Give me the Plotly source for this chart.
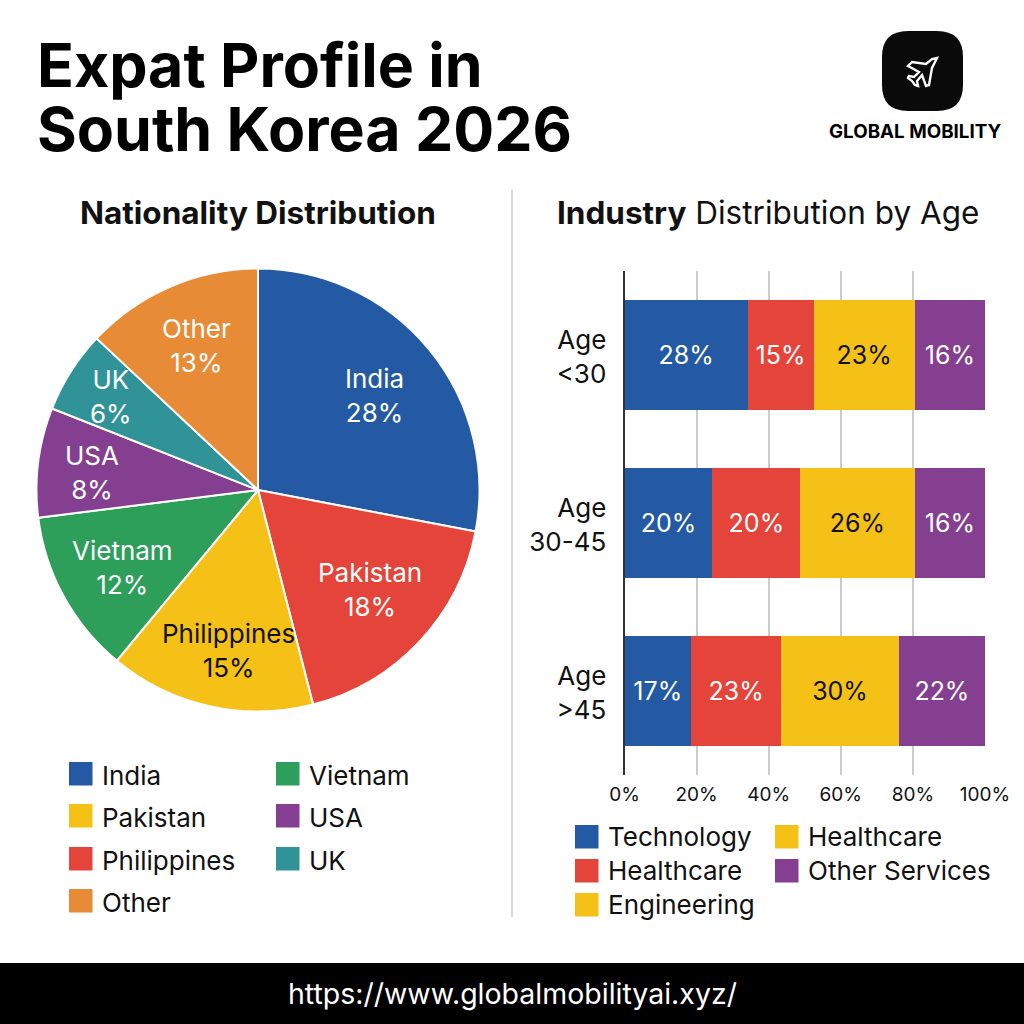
import plotly.graph_objects as go

SIZE = 1024
FONT = "Inter"
INK = "#111111"

# Brand palette
BLUE, RED, YELLOW, PURPLE = "#2459A3", "#E5443A", "#F5C116", "#843F90"
GREEN, TEAL, ORANGE = "#2E9E5B", "#2F9398", "#E88B37"

# Nationality shares
countries = ["India", "Pakistan", "Philippines", "Vietnam", "USA", "UK", "Other"]
country_share = [28, 18, 15, 12, 8, 6, 13]
country_colors = [BLUE, RED, YELLOW, GREEN, PURPLE, TEAL, ORANGE]
country_text = ["white", "white", INK, "white", "white", "white", "white"]
# Centre of each slice caption, in pixels
caption_centres = [(374, 395), (370, 589), (228, 650), (122, 567), (92, 472), (111, 396), (196, 345)]

# Industry shares by age group
age_groups = ["Age<br>&lt;30", "Age<br>30-45", "Age<br>&gt;45"]
industries = ["Technology", "Healthcare", "Engineering", "Other Services"]
technology = [28, 20, 17]
healthcare = [15, 20, 23]
engineering = [23, 26, 30]
other_services = [16, 16, 22]
industry_colors = [BLUE, RED, YELLOW, PURPLE]
industry_text = ["white", "white", INK, "white"]
axis_ticks = [0, 20, 40, 60, 80, 100]

# Legend entries: label, swatch colour, swatch left, swatch top
pie_legend = [
    ("India", BLUE, 69, 762), ("Pakistan", YELLOW, 69, 804),
    ("Philippines", RED, 69, 847), ("Other", ORANGE, 69, 889),
    ("Vietnam", GREEN, 276, 762), ("USA", PURPLE, 276, 804), ("UK", TEAL, 276, 847),
]
bar_legend = [
    ("Technology", BLUE, 575, 825), ("Healthcare", RED, 575, 859),
    ("Engineering", YELLOW, 575, 893), ("Healthcare", YELLOW, 775, 825),
    ("Other Services", PURPLE, 775, 859),
]

# Plane glyph outline, in pixels
plane = [(937, 58), (932, 68), (929, 85), (926, 86), (922, 75), (917, 81), (918, 86),
         (915, 85), (912, 81), (908, 78), (909, 76), (914, 77), (919, 72), (908, 66),
         (912, 62), (926, 64), (932, 59)]


def px(x):
    return x / SIZE


def py(y):
    return 1 - y / SIZE


def rect(x0, y0, x1, y1, color):
    return dict(type="rect", xref="paper", yref="paper", x0=px(x0), x1=px(x1),
                y0=py(y0), y1=py(y1), fillcolor=color, line_width=0, layer="above")


def label(x, y, text, size, color=INK, anchor="left", weight=None):
    font = dict(family=FONT, size=size, color=color)
    if weight:
        font["weight"] = weight
    return dict(xref="paper", yref="paper", x=px(x), y=py(y), text=text, showarrow=False,
                xanchor=anchor, yanchor="middle", align=anchor, font=font)


fig = go.Figure()

fig.add_trace(go.Pie(
    labels=countries, values=country_share, sort=False, direction="clockwise", rotation=0,
    marker=dict(colors=country_colors, line=dict(color="white", width=2)),
    domain=dict(x=[px(36.5), px(479.5)], y=[py(712), py(268)]),
    textinfo="none", showlegend=False, hoverinfo="label+percent",
))

industry_values = [technology, healthcare, engineering, other_services]
for name, values, color, text_color in zip(industries, industry_values, industry_colors, industry_text):
    fig.add_trace(go.Bar(
        y=age_groups, x=values, name=name, orientation="h",
        marker=dict(color=color, line_width=0),
        text=[f"{v}%" for v in values], textposition="inside", insidetextanchor="middle",
        textangle=0, constraintext="none",
        insidetextfont=dict(family=FONT, size=25, color=text_color),
        showlegend=False,
    ))

# Rounded logo tile
r = 26
logo_tile = dict(
    type="path", xref="paper", yref="paper", fillcolor="#0A0A0A", line_width=0,
    path=(f"M {px(882 + r)} {py(31)} L {px(963 - r)} {py(31)} "
          f"Q {px(963)} {py(31)} {px(963)} {py(31 + r)} L {px(963)} {py(111 - r)} "
          f"Q {px(963)} {py(111)} {px(963 - r)} {py(111)} L {px(882 + r)} {py(111)} "
          f"Q {px(882)} {py(111)} {px(882)} {py(111 - r)} L {px(882)} {py(31 + r)} "
          f"Q {px(882)} {py(31)} {px(882 + r)} {py(31)} Z"),
)
plane_glyph = dict(
    type="path", xref="paper", yref="paper", fillcolor="rgba(0,0,0,0)",
    line=dict(color="white", width=2.4),
    path="M " + " L ".join(f"{px(a)} {py(b)}" for a, b in plane) + " Z",
)
shapes = [
    rect(0, 963, SIZE, SIZE, "#000000"),
    dict(type="line", xref="paper", yref="paper", x0=px(512), x1=px(512), y0=py(190), y1=py(917),
         line=dict(color="#C8C8C8", width=1.5)),
    logo_tile,
    plane_glyph,
]

annotations = [
    label(35, 65, "Expat Profile in", 60.8, "#000000", weight=700),
    label(35, 129, "South Korea 2026", 60.8, "#000000", weight=700),
    label(915, 131, "GLOBAL MOBILITY", 18.8, "#000000", "center", 700),
    label(258, 212, "Nationality Distribution", 31.5, INK, "center", 700),
    label(768, 212, "<b>Industry</b> Distribution by Age", 31.5, INK, "center"),
    label(512, 993, "https://www.globalmobilityai.xyz/", 28.5, "white", "center"),
]

# Slice captions take their text directly from the share values
for name, share, (cx, cy), color in zip(countries, country_share, caption_centres, country_text):
    annotations.append(label(cx, cy, f"{name}<br>{share}%", 26, color, "center"))

for rows, text_shift in ((pie_legend, 13), (bar_legend, 11)):
    for text, color, x, y in rows:
        shapes.append(rect(x, y, x + 23.5, y + 23.5, color))
        annotations.append(label(x + 31, y + text_shift, text, 26))

fig.update_layout(
    width=SIZE, height=SIZE, autosize=False,
    margin=dict(l=0, r=0, t=0, b=0), paper_bgcolor="white", plot_bgcolor="white",
    barmode="stack", barnorm="percent", bargap=0.345,
    shapes=shapes, annotations=annotations,
    xaxis=dict(domain=[px(624.5), px(985)], range=[0, 100], tickmode="array", tickvals=axis_ticks,
               ticktext=[f"{t}%" for t in axis_ticks],
               showgrid=True, gridcolor="#CCCCCC", gridwidth=1.5, zeroline=False,
               ticks="outside", ticklen=2, tickcolor="rgba(0,0,0,0)", automargin=False,
               tickfont=dict(family=FONT, size=19, color=INK)),
    yaxis=dict(domain=[py(775), py(271)], autorange="reversed", showline=True, linecolor="#333333",
               linewidth=2, showgrid=False, ticks="outside", ticklen=11, ticklabelshift=-2,
               tickcolor="rgba(0,0,0,0)", automargin=False,
               tickfont=dict(family=FONT, size=26, color=INK)),
    font=dict(family=FONT),
)

fig.write_html("out.html", config=dict(displayModeBar=False))
